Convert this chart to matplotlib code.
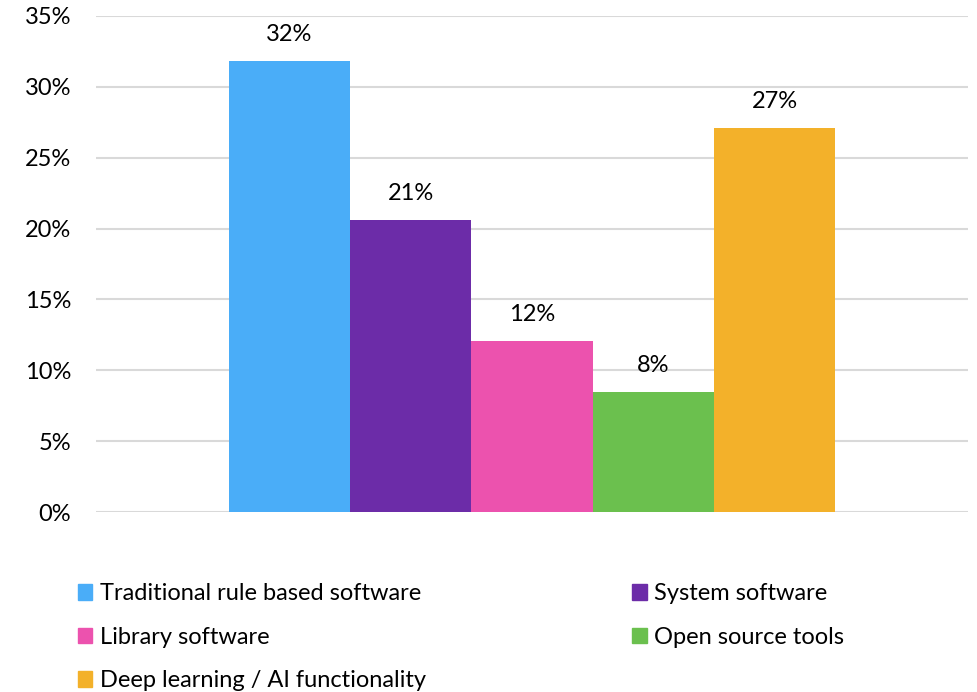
import numpy as np
import matplotlib.pyplot as plt
from matplotlib.patches import Patch

plt.rcParams['font.family'] = ['Lato', 'DejaVu Sans']

categories = ['Traditional rule based software', 'System software', 'Library software',
              'Open source tools', 'Deep learning / AI functionality']
values = [31.8, 20.6, 12.1, 8.5, 27.1]
labels = ['32%', '21%', '12%', '8%', '27%']
colors = ['#4AADF8', '#6C2CA8', '#EC52AE', '#6BC04E', '#F3B12A']

fig = plt.figure(figsize=(9.77, 6.92), dpi=100)
ax = fig.add_axes([0.0983, 0.2601, 0.8925, 0.7168])

w = 0.1392
n = len(values)
xs = (np.arange(n) - (n - 1) / 2) * w
bars = ax.bar(xs, values, width=w, color=colors, zorder=3)
for b, lab in zip(bars, labels):
    ax.annotate(lab, (b.get_x() + b.get_width() / 2, b.get_height()),
                xytext=(0, 19), textcoords='offset points',
                ha='center', va='center', fontsize=17, color='#000000')

ax.set_xlim(-0.5, 0.5)
ax.set_ylim(0, 35)
ax.set_yticks(np.arange(0, 36, 5))
ax.set_yticklabels([f'{t}%' for t in range(0, 36, 5)], fontsize=17)
ax.set_xticks([])
ax.yaxis.grid(True, color='#D9D9D9', linewidth=1.5, zorder=0)
ax.tick_params(axis='y', length=0, pad=18)
for s in ax.spines.values():
    s.set_visible(False)

order = [0, 2, 4, 1, 3]
handles = [Patch(color=colors[i], label=categories[i]) for i in order]
fig.legend(handles=handles, loc='upper left', bbox_to_anchor=(0.0577, 0.188),
           ncol=2, frameon=False, fontsize=17, handlelength=0.63, handleheight=0.63,
           handletextpad=0.3, labelspacing=0.96, columnspacing=8.76)

fig.savefig('out.png', dpi=100)
